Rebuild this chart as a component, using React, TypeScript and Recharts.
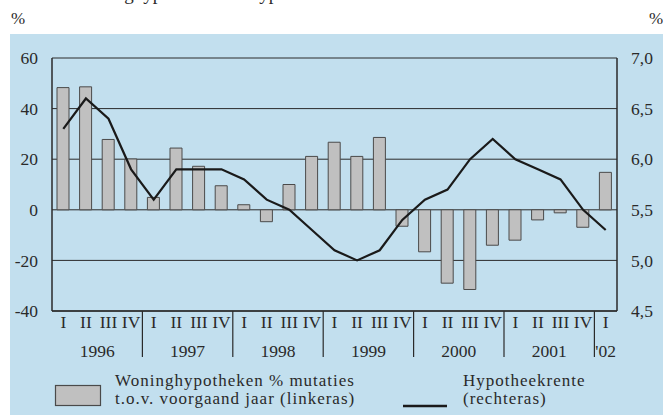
import React from "react";
import {
	Bar,
	CartesianGrid,
	ComposedChart,
	Line,
	XAxis,
	YAxis,
} from "recharts";

const years = ["1996", "1997", "1998", "1999", "2000", "2001", "'02"];
const quarters = ["I", "II", "III", "IV"];

// Woninghypotheken, % mutatie t.o.v. voorgaand jaar (linkeras)
const mutaties = [
	48.3, 48.6, 27.8, 20.1, 4.9, 24.4, 17.2, 9.5, 2.0, -4.7, 10.0, 21.1, 26.7,
	21.1, 28.6, -6.5, -16.6, -29.0, -31.5, -14.0, -12.0, -4.0, -1.2, -6.9, 14.8,
];

// Hypotheekrente (rechteras)
const rente = [
	6.3, 6.6, 6.4, 5.9, 5.6, 5.9, 5.9, 5.9, 5.8, 5.6, 5.5, 5.3, 5.1, 5.0, 5.1,
	5.4, 5.6, 5.7, 6.0, 6.2, 6.0, 5.9, 5.8, 5.5, 5.3,
];

const leftTicks = [-40, -20, 0, 20, 40, 60];
const rightTicks = [4.5, 5.0, 5.5, 6.0, 6.5, 7.0];

const data = mutaties.map((v, i) => ({
	period: `${years[Math.floor(i / 4)]} ${quarters[i % 4]}`,
	mutaties: v,
	rente: rente[i],
}));

const FONT = "'Liberation Serif', 'Times New Roman', 'DejaVu Serif', serif";
const INK = "#2a2a2a";
const FS = 17.5;

function PeriodTick(props: any) {
	const { x, y, payload } = props;
	const [year, q] = String(payload.value).split(" ");
	const idx = data.findIndex((d) => d.period === payload.value);
	const half = payload.offset ?? 0;
	const onlyOne = year === "'02";
	return (
		<g>
			<text
				x={x}
				y={y + 17}
				textAnchor="middle"
				fontSize={FS}
				fontFamily={FONT}
				fill={INK}
			>
				{q}
			</text>
			{q === "I" && idx > 0 && (
				<line
					x1={x - half}
					x2={x - half}
					y1={y}
					y2={y + 46}
					stroke={INK}
					strokeWidth={1.2}
				/>
			)}
			{(q === "II" || onlyOne) && (
				<text
					x={onlyOne ? x : x + half}
					y={y + 46}
					textAnchor="middle"
					fontSize={FS}
					fontFamily={FONT}
					fill={INK}
				>
					{year}
				</text>
			)}
		</g>
	);
}

function ChartLegend() {
	const txt = {
		fontSize: 17,
		fontFamily: FONT,
		fill: INK,
		letterSpacing: 1,
	};
	return (
		<svg
			width={663}
			height={50}
			style={{ position: "absolute", left: 0, top: 365, display: "block" }}
		>
			<rect
				x={55.5}
				y={20.5}
				width={45}
				height={20}
				fill="#c0c0c0"
				stroke="#4a4a4a"
				strokeWidth={1.2}
			/>
			<text x={115} y={20.5} {...txt}>
				Woninghypotheken % mutaties
			</text>
			<text x={115} y={39} {...txt}>
				t.o.v. voorgaand jaar (linkeras)
			</text>
			<line
				x1={403}
				x2={447}
				y1={41}
				y2={41}
				stroke="#1a1a1a"
				strokeWidth={2.4}
			/>
			<text x={463} y={20.5} {...txt}>
				Hypotheekrente
			</text>
			<text x={463} y={39} {...txt}>
				(rechteras)
			</text>
		</svg>
	);
}

export default function App() {
	return (
		<div
			style={{
				position: "absolute",
				left: 0,
				top: 0,
				width: 663,
				height: 415,
				background: "#fff",
				overflow: "hidden",
				fontFamily: FONT,
				color: INK,
			}}
		>
			<div
				style={{
					position: "absolute",
					left: 74,
					top: -17,
					fontSize: 19,
					lineHeight: "22px",
					whiteSpace: "nowrap",
				}}
			>
				Woninghypotheken en hypotheekrente
			</div>
			<div
				style={{
					position: "absolute",
					left: 11,
					top: 9,
					fontSize: 17,
					lineHeight: "20px",
				}}
			>
				%
			</div>
			<div
				style={{
					position: "absolute",
					left: 649,
					top: 9,
					fontSize: 17,
					lineHeight: "20px",
				}}
			>
				%
			</div>
			<div
				style={{
					position: "absolute",
					left: 10,
					top: 34,
					width: 653,
					height: 381,
					background: "#c2dfee",
				}}
			/>
			<div style={{ position: "absolute", left: 0, top: 0 }}>
				<ComposedChart
					width={663}
					height={415}
					data={data}
					margin={{ top: 58, right: 0, bottom: 54, left: 8 }}
					barCategoryGap={0}
				>
					<CartesianGrid
						yAxisId="left"
						vertical={false}
						stroke={INK}
						strokeWidth={1}
					/>
					<XAxis
						dataKey="period"
						interval={0}
						tickLine={false}
						tickSize={0}
						tickMargin={0}
						axisLine={{ stroke: INK, strokeWidth: 1.5 }}
						height={50}
						tick={<PeriodTick />}
					/>
					<YAxis
						yAxisId="left"
						domain={[-40, 60]}
						ticks={leftTicks}
						interval={0}
						width={44}
						tickLine={false}
						axisLine={{ stroke: INK, strokeWidth: 1.5 }}
						tickMargin={8}
						tick={{ fontSize: FS, fontFamily: FONT, fill: INK }}
					/>
					<YAxis
						yAxisId="right"
						orientation="right"
						domain={[4.5, 7.0]}
						ticks={rightTicks}
						interval={0}
						width={46}
						tickLine={false}
						axisLine={{ stroke: INK, strokeWidth: 1.5 }}
						tickMargin={8}
						tick={{ fontSize: FS, fontFamily: FONT, fill: INK }}
						tickFormatter={(v: number) => v.toFixed(1).replace(".", ",")}
					/>
					<Bar
						yAxisId="left"
						dataKey="mutaties"
						name="Woninghypotheken % mutaties t.o.v. voorgaand jaar (linkeras)"
						fill="#c0c0c0"
						stroke="#4a4a4a"
						strokeWidth={1}
						barSize={12}
						isAnimationActive={false}
					/>
					<Line
						yAxisId="right"
						type="linear"
						dataKey="rente"
						name="Hypotheekrente (rechteras)"
						stroke="#1a1a1a"
						strokeWidth={2.2}
						dot={false}
						isAnimationActive={false}
					/>
				</ComposedChart>
			</div>
			<ChartLegend />
		</div>
	);
}
